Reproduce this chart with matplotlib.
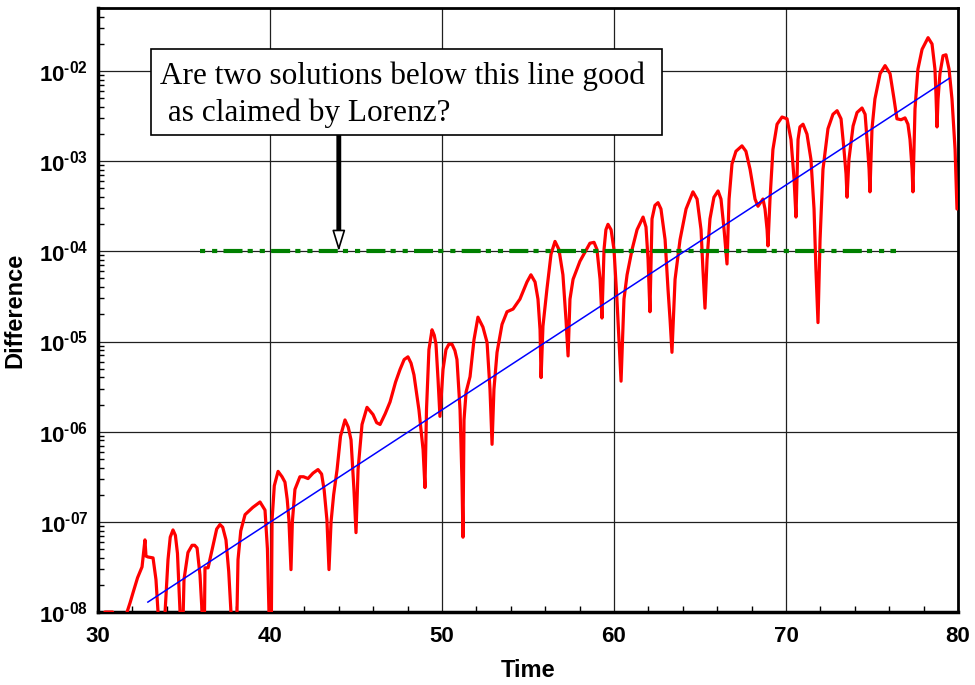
import numpy as np
import matplotlib.pyplot as plt
from matplotlib.patches import Rectangle
from matplotlib.ticker import FixedLocator, FixedFormatter, MultipleLocator, LogLocator, NullFormatter

plt.rcParams['font.family'] = ['Liberation Sans', 'DejaVu Sans']
plt.rcParams['font.weight'] = 'bold'
plt.rcParams['mathtext.fontset'] = 'custom'
plt.rcParams['mathtext.rm'] = 'Liberation Sans:bold'
plt.rcParams['mathtext.bf'] = 'Liberation Sans:bold'
plt.rcParams['mathtext.it'] = 'Liberation Sans:bold'
plt.rcParams['lines.scale_dashes'] = False

# difference between the two solutions (time, log10 of difference)
time = [30.0, 30.4, 30.85, 31.0, 31.55, 31.69, 31.86, 32.03, 32.3, 32.56, 32.73, 32.79, 32.91, 33.2, 33.37, 33.49, 33.6,
        33.78, 33.9, 34.07, 34.2, 34.36, 34.5, 34.62, 34.77, 34.83,
        34.88, 35.0, 35.23, 35.47, 35.62, 35.76, 35.93, 36.05, 36.1,
        36.16, 36.22, 36.4, 36.69, 36.9, 37.09, 37.25, 37.44, 37.6, 37.73, 37.79,
        38.02, 38.14, 38.3, 38.55, 39.0, 39.42, 39.71, 39.85, 39.94, 40.0,
        40.06, 40.12, 40.25, 40.47, 40.7, 40.87, 41.0, 41.1, 41.22,
        41.3, 41.45, 41.74, 41.95, 42.21, 42.5, 42.79, 43.0, 43.15, 43.31, 43.43,
        43.55, 43.7, 43.9, 44.1, 44.36, 44.55, 44.71, 44.88, 45.0,
        45.12, 45.35, 45.64, 45.99, 46.2, 46.4, 46.7, 46.98, 47.3, 47.56, 47.8, 48.02, 48.2, 48.37, 48.66, 48.9, 49.01,
        49.1, 49.24, 49.42, 49.55, 49.65, 49.77, 49.88,
        50.06, 50.23, 50.4, 50.58, 50.75, 50.87, 51.05, 51.16, 51.22,
        51.28, 51.4, 51.63, 51.86, 52.09, 52.38, 52.62, 52.79, 52.91,
        53.02, 53.2, 53.49, 53.78, 54.13, 54.53, 54.94, 55.17, 55.41, 55.58, 55.7, 55.76,
        55.87, 56.1, 56.34, 56.57, 56.8, 57.03, 57.21, 57.33,
        57.44, 57.62, 58.02, 58.31, 58.6, 58.84, 59.01, 59.19, 59.3,
        59.42, 59.53, 59.65, 59.83, 60.0, 60.17, 60.29, 60.41,
        60.58, 60.76, 61.05, 61.34, 61.69, 61.86, 61.98, 62.09,
        62.21, 62.38, 62.56, 62.73, 62.97, 63.14, 63.26, 63.37,
        63.55, 63.84, 64.19, 64.59, 64.83, 65.06, 65.17, 65.29,
        65.41, 65.58, 65.81, 66.05, 66.22, 66.4, 66.57,
        66.69, 66.86, 67.09, 67.44, 67.67, 67.91, 68.2, 68.37, 68.66, 68.78, 68.9, 68.95,
        69.07, 69.24, 69.48, 69.77, 70.06, 70.29, 70.47, 70.58,
        70.7, 70.81, 70.99, 71.22, 71.45, 71.63, 71.74, 71.86,
        71.98, 72.15, 72.44, 72.73, 72.97, 73.2, 73.37, 73.49, 73.55,
        73.66, 73.9, 74.13, 74.42, 74.6, 74.71, 74.83, 74.88,
        75.0, 75.17, 75.47, 75.76, 76.05, 76.28, 76.45, 76.69, 76.92, 77.09, 77.21, 77.33, 77.38,
        77.5, 77.67, 77.91, 78.26, 78.49, 78.66, 78.72, 78.78, 78.84, 78.95, 79.13, 79.3, 79.48, 79.65, 79.83, 79.94]
log_diff = [-8.6, -8.0, -8.0, -8.6, -8.6, -8.0, -7.9, -7.79, -7.62, -7.5, -7.2, -7.38, -7.39, -7.4, -7.64, -8.0, -8.6,
            -8.6, -8.0, -7.42, -7.17, -7.09, -7.15, -7.35, -8.0, -8.6,
            -8.6, -7.64, -7.34, -7.26, -7.26, -7.29, -7.59, -8.0, -8.6,
            -8.6, -7.51, -7.51, -7.26, -7.08, -7.03, -7.06, -7.2, -7.55, -8.0, -8.6,
            -8.6, -7.42, -7.1, -6.92, -6.84, -6.78, -6.87, -7.3, -8.0, -8.6,
            -8.6, -6.98, -6.6, -6.44, -6.5, -6.56, -6.75, -6.98, -7.53,
            -7.0, -6.64, -6.5, -6.5, -6.52, -6.46, -6.42, -6.47, -6.65, -6.98, -7.53,
            -7.0, -6.7, -6.42, -6.05, -5.87, -5.95, -6.09, -6.64, -7.12,
            -6.42, -5.92, -5.73, -5.81, -5.9, -5.92, -5.8, -5.67, -5.45, -5.31, -5.2, -5.17, -5.24, -5.37, -5.76, -6.2, -6.62,
            -5.75, -5.09, -4.87, -4.93, -5.03, -5.42, -5.83,
            -5.31, -5.09, -5.03, -5.03, -5.1, -5.2, -5.76, -6.53, -7.17,
            -5.87, -5.56, -5.39, -4.98, -4.73, -4.84, -5.01, -5.53, -6.14,
            -5.53, -5.12, -4.81, -4.67, -4.64, -4.53, -4.34, -4.26, -4.34, -4.53, -4.87, -5.4,
            -4.83, -4.42, -4.03, -3.89, -3.98, -4.26, -4.76, -5.16,
            -4.53, -4.31, -4.11, -4.01, -3.91, -3.9, -3.98, -4.31, -4.74,
            -3.98, -3.76, -3.7, -3.76, -3.98, -4.53, -4.98, -5.44,
            -4.53, -4.26, -3.98, -3.76, -3.62, -3.73, -4.09, -4.67,
            -3.64, -3.49, -3.46, -3.53, -3.87, -4.42, -4.76, -5.12,
            -4.31, -3.87, -3.53, -3.34, -3.42, -3.76, -4.2, -4.63,
            -4.09, -3.64, -3.4, -3.33, -3.42, -3.76, -4.14,
            -3.42, -3.03, -2.89, -2.83, -2.89, -3.09, -3.42, -3.5, -3.42, -3.53, -3.76, -3.94,
            -3.42, -2.87, -2.59, -2.51, -2.53, -2.76, -3.2, -3.62,
            -2.76, -2.62, -2.59, -2.7, -2.98, -3.53, -4.2, -4.79,
            -3.87, -3.09, -2.64, -2.48, -2.44, -2.53, -2.87, -3.14, -3.4,
            -2.98, -2.61, -2.46, -2.41, -2.48, -2.76, -3.09, -3.34,
            -2.64, -2.31, -2.03, -1.94, -2.03, -2.31, -2.53, -2.54, -2.52, -2.59, -2.76, -3.09, -3.34,
            -2.42, -1.98, -1.76, -1.63, -1.7, -1.98, -2.26, -2.62, -2.31, -2.03, -1.83, -1.82, -1.98, -2.31, -2.87, -3.53]

# exponential growth fit line
fit_time = [32.9, 79.5]
fit_log = [-7.89, -2.08]

# threshold line
thr_time = [35.93, 76.4]
thr_value = [1e-4, 1e-4]

x_ticks = [30, 40, 50, 60, 70, 80]
x_labels = ['30', '40', '50', '60', '70', '80']
y_ticks = [1e-8, 1e-7, 1e-6, 1e-5, 1e-4, 1e-3, 1e-2]
y_labels = [r'$10^{\text{-08}}$', r'$10^{\text{-07}}$', r'$10^{\text{-06}}$', r'$10^{\text{-05}}$',
            r'$10^{\text{-04}}$', r'$10^{\text{-03}}$', r'$10^{\text{-02}}$']

diff = 10 ** np.array(log_diff)
fit_diff = 10 ** np.array(fit_log)

fig = plt.figure(figsize=(9.75, 6.85), dpi=100)
ax = fig.add_axes([98 / 975, 1 - 612 / 685, 860 / 975, 604 / 685])
ax.set_yscale('log')

ax.plot(time, diff, color='red', lw=2.3, solid_joinstyle='round', solid_capstyle='round', zorder=3)
ax.plot(thr_time, thr_value, color='green', lw=3,
        linestyle=(17.4, (13.7, 3.7, 3.7, 5.0, 3.7, 4.5)), zorder=4)
ax.plot(fit_time, fit_diff, color='blue', lw=1.1, zorder=5)

ax.set_xlim(30, 80)
ax.set_ylim(1e-8, 5e-2)

ax.xaxis.set_major_locator(FixedLocator(x_ticks))
ax.xaxis.set_major_formatter(FixedFormatter(x_labels))
ax.xaxis.set_minor_locator(MultipleLocator(2))
ax.yaxis.set_major_locator(FixedLocator(y_ticks))
ax.yaxis.set_major_formatter(FixedFormatter(y_labels))
ax.yaxis.set_minor_locator(LogLocator(base=10, subs=np.arange(2, 10), numticks=20))
ax.yaxis.set_minor_formatter(NullFormatter())

ax.grid(True, which='major', color='#202020', lw=0.9)
ax.set_axisbelow(True)
ax.tick_params(which='both', direction='in', top=False, right=False)
ax.tick_params(which='major', length=0, labelsize=16)
ax.tick_params(axis='x', which='major', pad=10)
ax.tick_params(axis='y', which='major', pad=7)
ax.tick_params(which='minor', length=4, width=1)
for s in ax.spines.values():
    s.set_linewidth(2)
ax.spines['left'].set_linewidth(2.5)
ax.spines['bottom'].set_linewidth(2.5)

ax.set_xlabel('Time', fontsize=17, fontweight='bold')
ax.set_ylabel('Difference', fontsize=17, fontweight='bold')
ax.xaxis.set_label_coords(0.5, -0.077)
ax.yaxis.set_label_coords(-0.083, 0.5)

# question box with arrow
fig.add_artist(Rectangle((151 / 975, 1 - 135 / 685), 511 / 975, 86 / 685, transform=fig.transFigure,
                         fc='white', ec='black', lw=1.2, zorder=5))
fig.text(160 / 975, 1 - 84 / 685, 'Are two solutions below this line good', family='Liberation Serif',
         fontweight='normal', fontsize=22.5, va='baseline', zorder=6)
fig.text(160 / 975, 1 - 121 / 685, ' as claimed by Lorenz?', family='Liberation Serif',
         fontweight='normal', fontsize=22.5, va='baseline', zorder=6)
ax.annotate('', xy=(44, 10 ** -3.79), xytext=(44, 10 ** -2.7),
            arrowprops=dict(arrowstyle='-', lw=3.5, color='black', shrinkA=0, shrinkB=0), zorder=6)
ax.annotate('', xy=(44, 1e-4), xytext=(44, 10 ** -3.79),
            arrowprops=dict(arrowstyle='-|>,head_length=0.65,head_width=0.2', lw=1.2, ec='black', fc='white',
                            mutation_scale=20, shrinkA=0, shrinkB=0), zorder=6)

fig.savefig('out.png', dpi=100)
